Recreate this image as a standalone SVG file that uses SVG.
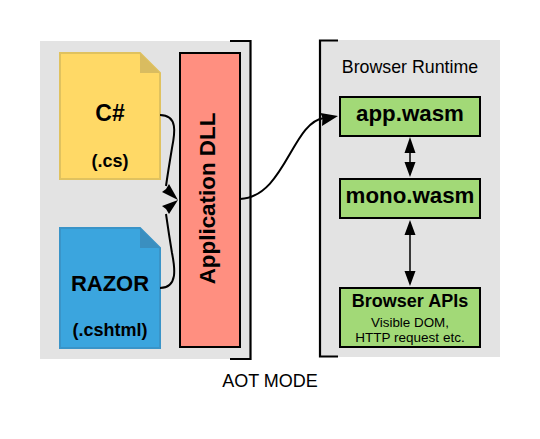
<svg xmlns="http://www.w3.org/2000/svg" width="540" height="439" viewBox="0 0 540 439">
<style>
text{font-family:"Liberation Sans",Arial,sans-serif;text-anchor:middle;fill:#000}
.b{font-weight:bold}
.box{fill:#a2d977;stroke:#000;stroke-width:2}
.br{fill:none;stroke:#000;stroke-width:2.200}
.c{fill:none;stroke:#000;stroke-width:2}
.d{fill:none;stroke:#000;stroke-width:1.500}
</style>
<rect id="panel-left" x="40" y="41" width="210" height="318" fill="#e3e3e3"/>
<rect id="panel-right" x="320" y="40" width="180" height="317" fill="#e3e3e3"/>
<g id="cs">
<path d="M60 53H140L160 73V179H60Z" fill="#ffd966" stroke="#e0c25f" stroke-width="2"/>
<path d="M140 53L160 73H140Z" fill="#d9bc60"/>
<text class="b" x="110" y="121" font-size="23">C#</text>
<text class="b" x="110" y="167" font-size="18">(.cs)</text>
</g>
<g id="razor">
<path d="M60 228H140L160 248V348H60Z" fill="#3ba5de" stroke="#3a94c8" stroke-width="2"/>
<path d="M140 228L160 248H140Z" fill="#3a8fc0"/>
<text class="b" x="110" y="291" font-size="22">RAZOR</text>
<text class="b" x="110" y="336" font-size="18">(.cshtml)</text>
</g>
<g id="dll">
<rect x="180" y="53" width="60" height="294" fill="#ff8f80" stroke="#000" stroke-width="2"/>
<text class="b" transform="translate(215 198.500) rotate(-90)" font-size="22.400">Application DLL</text>
</g>
<g id="bracket-left"><path class="br" d="M230 41H250.500V359H230"/></g>
<g id="bracket-right"><path class="br" d="M338 40.500H320V356.500H338"/></g>
<g id="browser-runtime"><text x="410" y="73" font-size="17.800">Browser Runtime</text></g>
<g id="app"><rect class="box" x="340" y="97" width="140" height="39"/><text class="b" x="410" y="121" font-size="22.300">app.wasm</text></g>
<g id="mono"><rect class="box" x="340" y="179" width="140" height="39"/><text class="b" x="410" y="203" font-size="22.300">mono.wasm</text></g>
<g id="apis"><rect class="box" x="340" y="288" width="140" height="59"/><text class="b" x="410" y="307" font-size="18">Browser APIs</text><text x="410" y="327" font-size="13.400">Visible DOM,</text><text x="410" y="342" font-size="13.500">HTTP request etc.</text></g>
<g id="aot"><text x="270" y="387" font-size="18">AOT MODE</text></g>
<g id="connectors">
<path class="c" d="M160 115C178 115 175 133 172 148C170 160 168 172 166 186"/>
<path class="c" d="M160 288C178 288 175 268 172 253C170 241 168 228 166 214"/>
<path d="M178 200L162 192L166 189L169 184Z" fill="#000"/>
<path d="M178 200L162 206L166 209L169 214Z" fill="#000"/>
<path class="c" d="M240 199C285 197 292 122 324 118"/>
<path d="M338 116L320.500 113L322.500 118L322 126Z" fill="#000"/>
<path class="d" d="M410 150V164"/>
<path d="M410 137L404.500 153H415.500Z M410 177L404.500 162H415.500Z" fill="#000"/>
<path class="d" d="M410 232V274"/>
<path d="M410 220L404.500 235H415.500Z M410 286L404.500 271H415.500Z" fill="#000"/>
</g>
</svg>
